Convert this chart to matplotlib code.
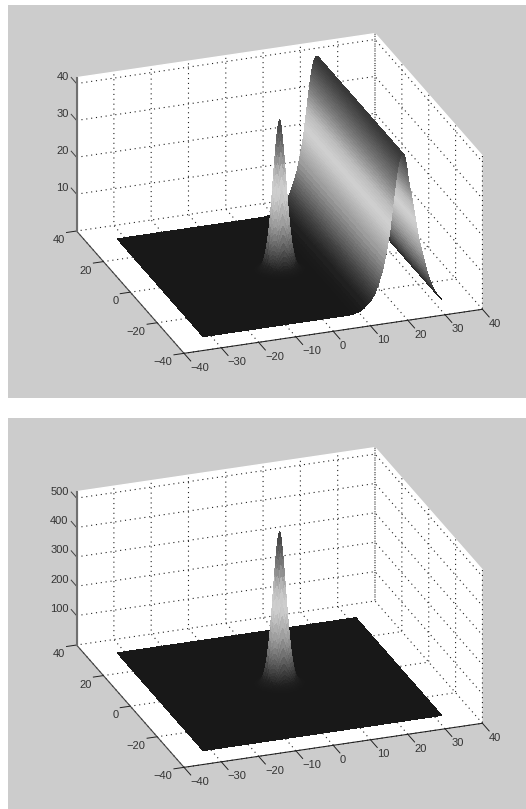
import numpy as np
import matplotlib
matplotlib.use('Agg')
import matplotlib.pyplot as plt
from matplotlib.colors import LinearSegmentedColormap
from matplotlib.patches import Rectangle
from mpl_toolkits.mplot3d import proj3d

plt.rcParams['font.family'] = ['Liberation Sans', 'DejaVu Sans']

# surface grid, denser where the surface is steep
x_floor = [-32, -30, -28, -26, -24, -22, -20, -18, -16, -14, -12, -10, -8]
x_after = [8, 10, 12, 14, 16, 18, 20, 22, 24, 26, 28, 30, 32]
x_rise = [8, 9, 10, 11]

# ridge height across x, read from the front edge of the top panel
ridge_rise = [0.1, 0.3, 0.6, 1.2]
# x = 12 to 16.75, step 0.25
ridge_left = [2.1, 2.3, 2.6, 2.8, 3.1, 3.5, 3.9, 4.3, 4.7, 5.3, 5.9, 6.6, 7.3, 8.0, 8.8, 9.6, 10.4, 11.4, 12.5, 13.8]
# x = 17 to 25.9, step 0.1
ridge_crest = [15.1, 15.6, 16.1, 16.6, 17.1, 17.7, 18.3, 18.9, 19.5, 20.1,
               20.8, 21.6, 22.4, 23.3, 24.1, 25.0, 25.8, 26.6, 27.5, 28.3,
               29.1, 30.0, 30.8, 31.7, 32.5, 33.3, 34.1, 34.8, 35.6, 36.3,
               36.9, 37.5, 38.0, 38.6, 39.1, 39.5, 39.9, 40.3, 40.6, 40.9,
               41.1, 41.3, 41.4, 41.5, 41.6, 41.6, 41.6, 41.5, 41.4, 41.3,
               41.1, 40.7, 40.2, 39.6, 39.1, 38.5, 37.8, 37.1, 36.3, 35.6,
               34.8, 34.2, 33.6, 33.0, 32.3, 31.7, 31.2, 30.7, 30.1, 29.6,
               29.1, 28.5, 27.9, 27.2, 26.6, 26.0, 25.4, 24.8, 24.1, 23.5,
               22.9, 22.3, 21.7, 21.0, 20.4, 19.8, 19.3, 18.8, 18.2, 17.7]
# x = 26 to 32, step 0.25
ridge_right = [17.2, 16.1, 15.1, 14.0, 13.0, 11.9, 10.9, 9.8, 8.8, 8.0, 7.3, 6.5, 5.7,
               5.1, 4.5, 3.9, 3.3, 2.9, 2.5, 2.1, 1.7, 1.4, 1.1, 0.8, 0.5]

# central peak as a fraction of its height, at 0 to 7 from the centre, step 0.25
peak_half = [1, 0.98, 0.94, 0.88, 0.81, 0.73, 0.645, 0.56, 0.475, 0.40, 0.33, 0.27, 0.215, 0.17,
             0.13, 0.10, 0.075, 0.055, 0.04, 0.03, 0.021, 0.015, 0.01, 0.007, 0.005, 0.003,
             0.002, 0.001, 0.0005]
peak_height_top = 40.9
peak_height_bottom = 520

x_ticks = [-40, -30, -20, -10, 0, 10, 20, 30, 40]
y_ticks = [-40, -20, 0, 20, 40]
z_ticks_top = [10, 20, 30, 40]
z_ticks_bottom = [100, 200, 300, 400, 500]
z_max_top = 41.6
z_max_bottom = 522

W, H = 526, 809
SIDE = 465.0
BG = '#cccccc'
INK = '#333333'

# grey by fraction of the top height: dark foot, light middle, dark tip
shade = LinearSegmentedColormap.from_list('shade', [
    (0.0, '#181818'), (0.05, '#222222'), (0.11, '#3c3c3c'), (0.22, '#6c6c6c'),
    (0.33, '#989898'), (0.5, '#c8c8c8'), (0.56, '#d0d0d0'), (0.66, '#bcbcbc'), (0.8, '#808080'),
    (0.98, '#404040'), (1.0, '#383838')], N=1024)


def put_label(ax, t, x, y, z, dx, dy, ha):
    # 2D label at the projected tick position, offset in pixels
    xp, yp, _ = proj3d.proj_transform(x, y, z, ax.get_proj())
    ax.annotate(str(t).replace('-', '\u2212'), (xp, yp), xytext=(dx, dy), textcoords='offset pixels',
                ha=ha, va='center', fontsize=8, color=INK, annotation_clip=False)


def draw_panel(fig, cx, cy, X, Y, Z, zmax, zticks):
    ax = fig.add_axes([(cx - 0.5135 * SIDE) / W, 1 - (cy + 0.5135 * SIDE) / H,
                       SIDE / W, SIDE / H], projection='3d', proj_type='ortho')
    ax.patch.set_alpha(0)
    ax.view_init(elev=24.2, azim=-109.8)
    ax.set_box_aspect((1, 1, 0.53))
    ax.set_xlim(-40, 40)
    ax.set_ylim(-40, 40)
    ax.set_zlim(0, zmax)

    # colour of each quad from the mean height of its corners
    mid = (Z[:-1, :-1] + Z[1:, :-1] + Z[:-1, 1:] + Z[1:, 1:]) / 4
    ax.plot_surface(X, Y, Z, facecolors=shade(mid / zmax), rstride=1, cstride=1,
                    shade=False, antialiased=False, linewidth=0)

    ax.set_xticks(x_ticks)
    ax.set_yticks(y_ticks)
    ax.set_zticks(zticks)
    ax.set_xticklabels([])
    ax.set_yticklabels([])
    ax.set_zticklabels([])
    ax.set_zlim(0, zmax)
    ax.tick_params(color='none')
    for axis in (ax.xaxis, ax.yaxis, ax.zaxis):
        axis.set_pane_color('white')
        axis.pane.set_edgecolor('white')
        axis._axinfo['grid'].update(color='#222222', linewidth=0.8, linestyle=(0, (1, 3.4)))
    ax.xaxis.line.set_color('#222222')
    ax.yaxis.line.set_color('#444444')
    ax.zaxis.line.set_color('#707070')

    # ticks and labels placed like the original, outside the box
    for t in x_ticks:
        ax.plot([t, t], [-40, -45], [0, 0], color='#222222', lw=0.7)
        put_label(ax, t, t, -40, 0, 6.5, -14.5, 'left')
    for t in y_ticks:
        ax.plot([-40, -42.7], [t, t], [0, 0], color='#222222', lw=0.7)
        put_label(ax, t, -40, t, 0, -12, -9, 'right')
    for t in zticks:
        ax.plot([-40, -40], [40, 44], [t, t], color='#444444', lw=0.7)
        put_label(ax, t, -40, 40, t, -8, 6.5, 'right')
    ax.plot([-40, -40], [40, 40], [0, zmax], color='#707070', lw=1.5)
    return ax


x_peak = np.linspace(-7, 7, 57)
x = np.concatenate([x_floor, x_peak, x_rise, np.linspace(12, 16.75, 20),
                    np.linspace(17, 25.9, 90), np.linspace(26, 32, 25)])
y = np.concatenate([x_floor, x_peak, x_after])
peak_full = peak_half[:0:-1] + peak_half
peak_x = np.concatenate([np.zeros(len(x_floor)), peak_full, np.zeros(len(x) - len(x_floor) - 57)])
peak_y = np.concatenate([np.zeros(len(x_floor)), peak_full, np.zeros(len(x_after))])
ridge = np.concatenate([np.zeros(len(x_floor) + 57), ridge_rise, ridge_left, ridge_crest, ridge_right])

X, Y = np.meshgrid(x, y)
peak = np.outer(peak_y, peak_x)
Z_top = np.tile(ridge, (len(y), 1)) + peak_height_top * peak
Z_bottom = peak_height_bottom * peak

fig = plt.figure(figsize=(W / 100, H / 100), dpi=100, facecolor='white')
fig.add_artist(Rectangle((8 / W, 1 - 398 / H), (W - 8) / W, 393 / H, transform=fig.transFigure,
                         facecolor=BG, edgecolor='none', zorder=-5))
fig.add_artist(Rectangle((8 / W, 0), (W - 8) / W, 391 / H, transform=fig.transFigure,
                         facecolor=BG, edgecolor='none', zorder=-5))

draw_panel(fig, 279.5, 193.5, X, Y, Z_top, z_max_top, z_ticks_top)
draw_panel(fig, 279.5, 607.5, X, Y, Z_bottom, z_max_bottom, z_ticks_bottom)

fig.savefig('out.png', dpi=100, facecolor='white')
